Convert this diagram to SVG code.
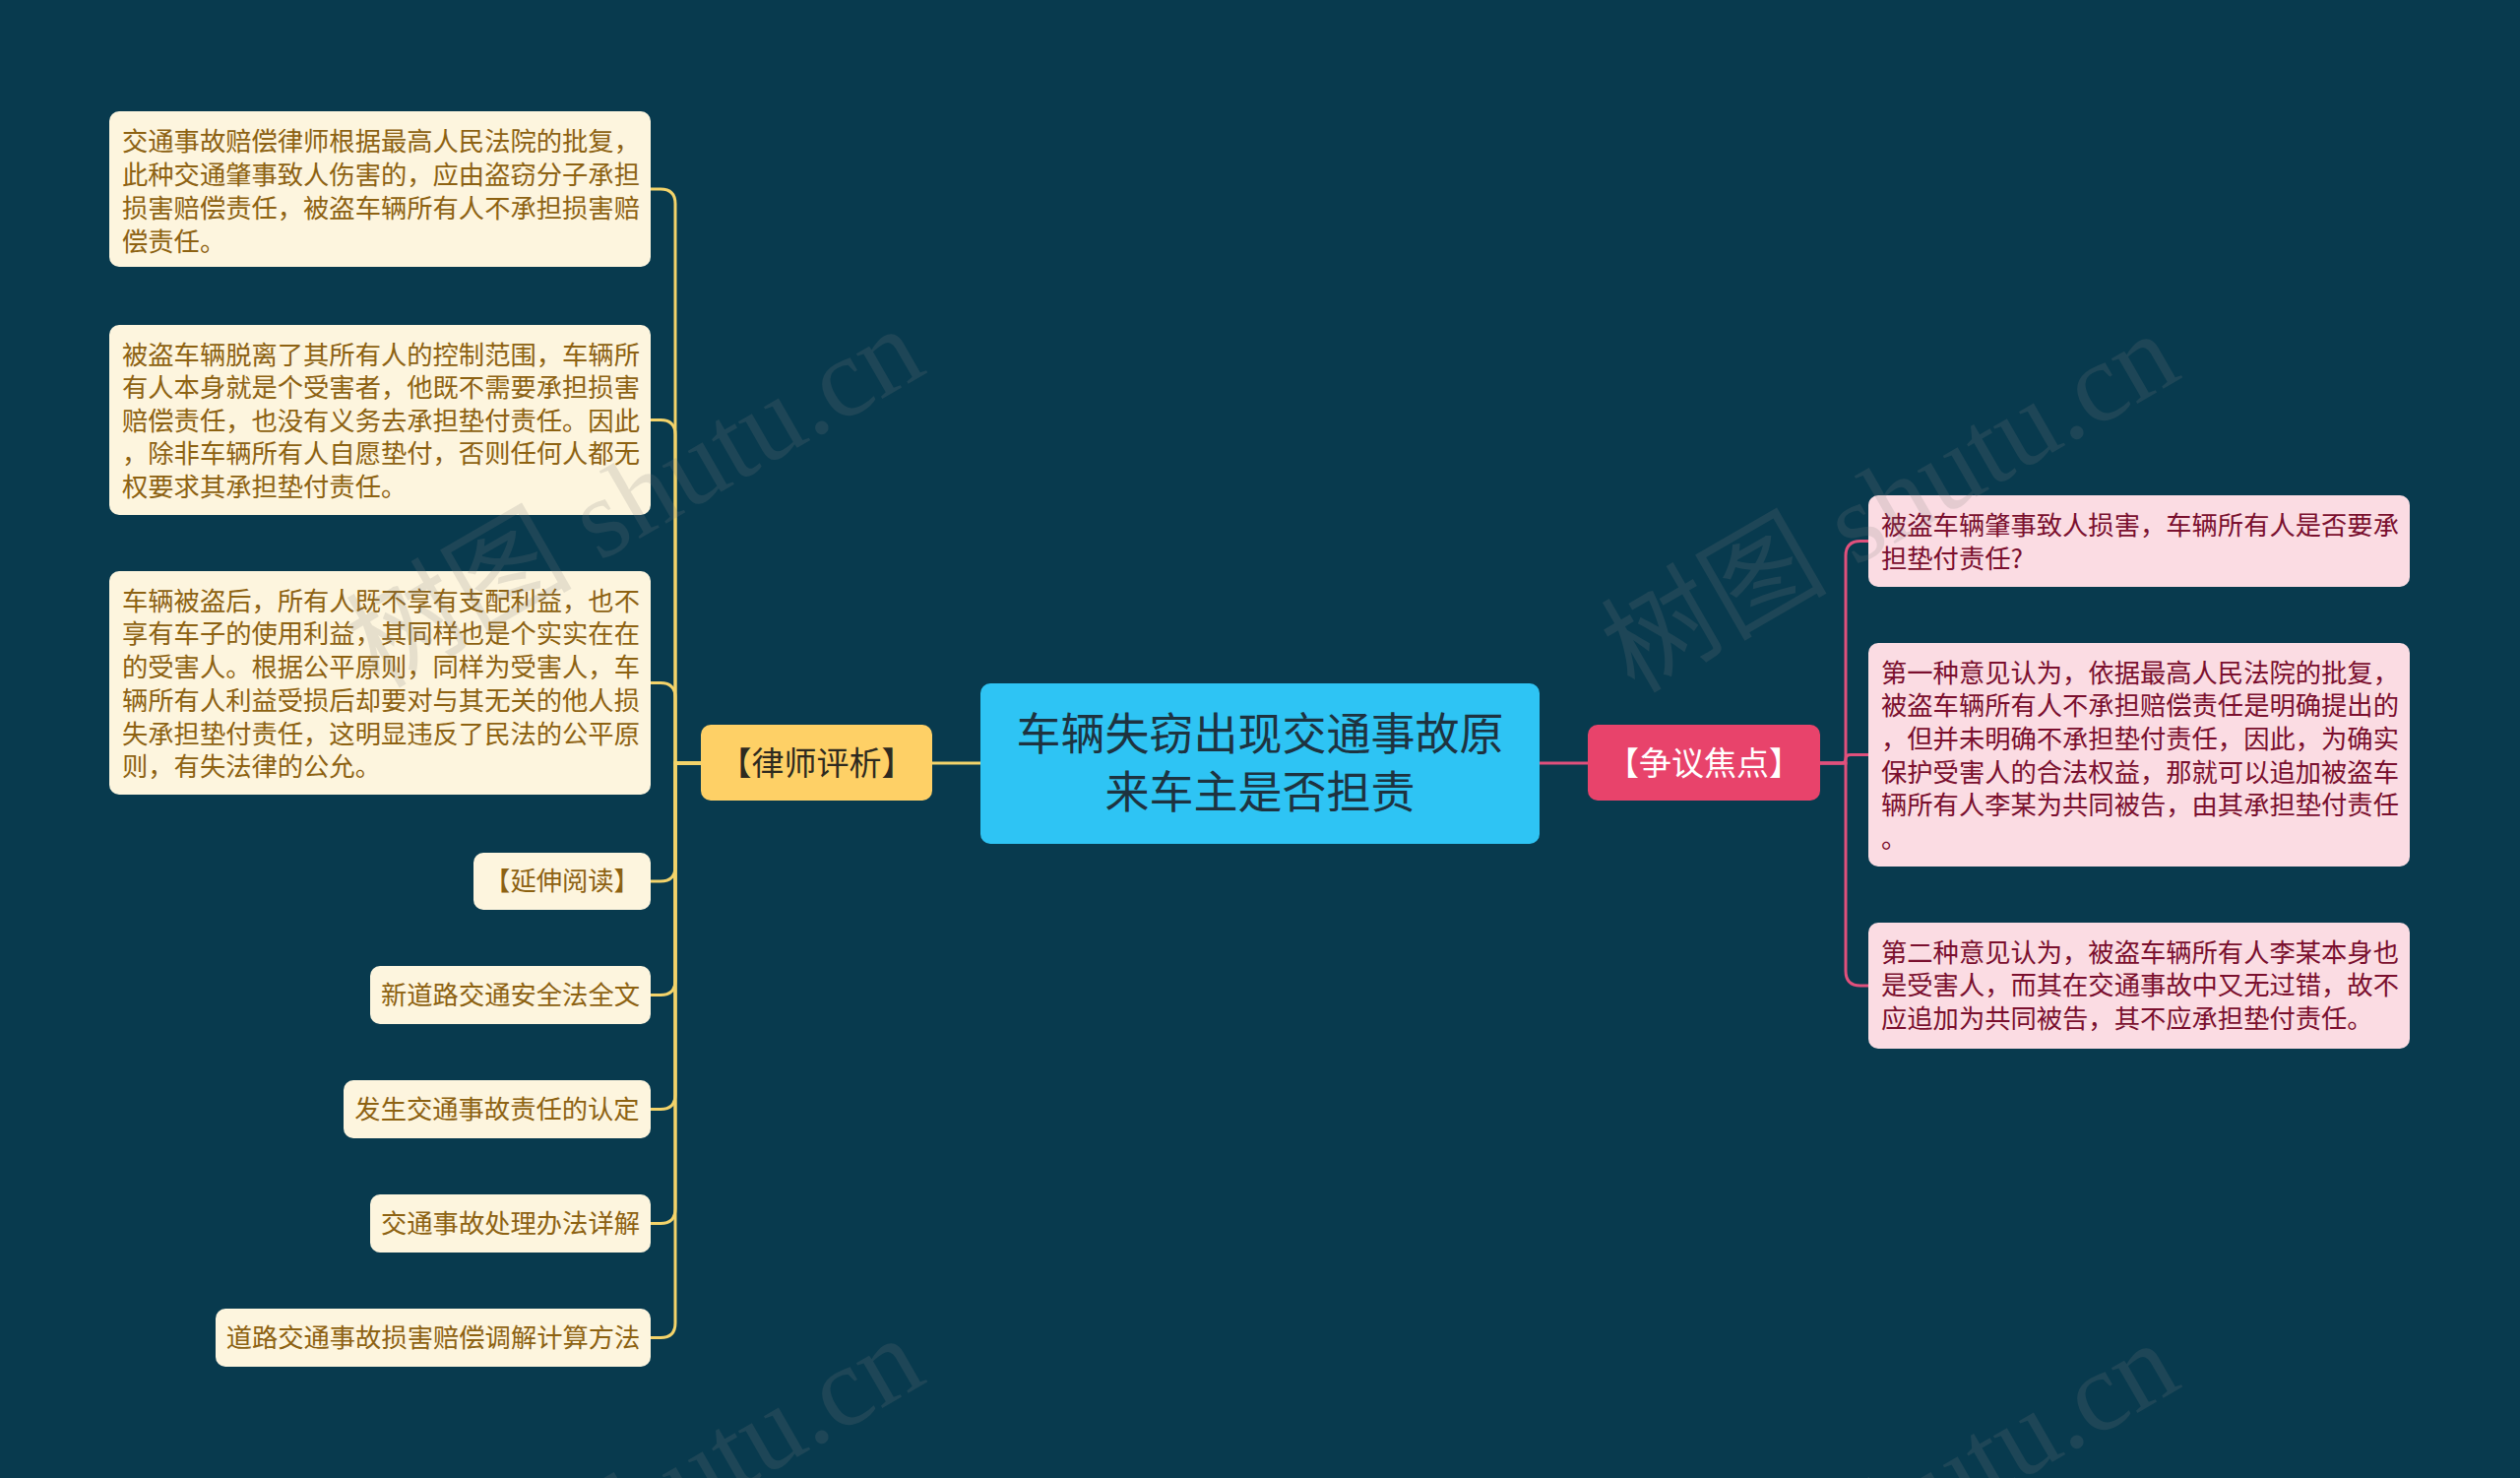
<svg xmlns="http://www.w3.org/2000/svg" width="2560" height="1501" viewBox="0 0 2560 1501">
<style>
.bg{fill:#083a4e}
.lc{fill:#fdf5de}
.lt{font-family:"Noto Sans CJK SC","Noto Sans",sans-serif;font-size:26.3px;fill:#8d6212}
.rc{fill:#fbdce3}
.rt{font-family:"Noto Sans CJK SC","Noto Sans",sans-serif;font-size:26.3px;fill:#7a0f2e}
.ly{fill:none;stroke:#f3d36a;stroke-width:3}
.pk{fill:none;stroke:#e0507c;stroke-width:3}
.wm{font-family:"Liberation Serif","Noto Sans CJK SC",serif;font-size:115px;fill:#808080;opacity:0.18}
</style>
<rect class="bg" x="0" y="0" width="2560" height="1501"/>
<g id="connectors">
<path class="ly" d="M996,775 H947"/>
<path class="pk" d="M1564,775 H1613"/>
<path class="ly" d="M712,775 H686 V207 Q686,192 671,192 H661"/>
<path class="ly" d="M712,775 H686 V441.5 Q686,426.5 671,426.5 H661"/>
<path class="ly" d="M712,775 H686 V708.5 Q686,693.5 671,693.5 H661"/>
<path class="ly" d="M712,775 H686 V880 Q686,895 671,895 H661"/>
<path class="ly" d="M712,775 H686 V995.5 Q686,1010.5 671,1010.5 H661"/>
<path class="ly" d="M712,775 H686 V1111.5 Q686,1126.5 671,1126.5 H661"/>
<path class="ly" d="M712,775 H686 V1227.5 Q686,1242.5 671,1242.5 H661"/>
<path class="ly" d="M712,775 H686 V1343.5 Q686,1358.5 671,1358.5 H661"/>
<path class="pk" d="M1849,775 H1875 V564.5 Q1875,549.5 1890,549.5 H1898"/>
<path class="pk" d="M1849,775 H1870 Q1875,775 1875,770.75 Q1875,766.5 1880,766.5 H1898"/>
<path class="pk" d="M1849,775 H1875 V986 Q1875,1001 1890,1001 H1898"/>
</g>
<g id="center">
<rect x="996" y="694" width="568" height="163" rx="10" fill="#2ec4f4"/>
<text x="1280" y="762" text-anchor="middle" font-family="'Noto Sans CJK SC','Noto Sans',sans-serif" font-size="45" fill="#1e3340">车辆失窃出现交通事故原</text>
<text x="1280" y="821" text-anchor="middle" font-family="'Noto Sans CJK SC','Noto Sans',sans-serif" font-size="45" fill="#1e3340">来车主是否担责</text>
</g>
<g id="lawyer">
<rect x="712" y="736" width="235" height="77" rx="10" fill="#fed066"/>
<text x="829.5" y="787" text-anchor="middle" font-family="'Noto Sans CJK SC','Noto Sans',sans-serif" font-size="33" fill="#2e2a20">【律师评析】</text>
</g>
<g id="dispute">
<rect x="1613" y="736" width="236" height="77" rx="10" fill="#e8436b"/>
<text x="1731" y="787" text-anchor="middle" font-family="'Noto Sans CJK SC','Noto Sans',sans-serif" font-size="33" fill="#ffffff">【争议焦点】</text>
</g>
<g id="l1">
<rect class="lc" x="111" y="113" width="550" height="158" rx="10"/>
<text class="lt" x="124" y="153">交通事故赔偿律师根据最高人民法院的批复，</text>
<text class="lt" x="124" y="187">此种交通肇事致人伤害的，应由盗窃分子承担</text>
<text class="lt" x="124" y="221">损害赔偿责任，被盗车辆所有人不承担损害赔</text>
<text class="lt" x="124" y="255">偿责任。</text>
</g>
<g id="l2">
<rect class="lc" x="111" y="330" width="550" height="193" rx="10"/>
<text class="lt" x="124" y="370">被盗车辆脱离了其所有人的控制范围，车辆所</text>
<text class="lt" x="124" y="403">有人本身就是个受害者，他既不需要承担损害</text>
<text class="lt" x="124" y="437">赔偿责任，也没有义务去承担垫付责任。因此</text>
<text class="lt" x="124" y="470">，除非车辆所有人自愿垫付，否则任何人都无</text>
<text class="lt" x="124" y="504">权要求其承担垫付责任。</text>
</g>
<g id="l3">
<rect class="lc" x="111" y="580" width="550" height="227" rx="10"/>
<text class="lt" x="124" y="620">车辆被盗后，所有人既不享有支配利益，也不</text>
<text class="lt" x="124" y="653">享有车子的使用利益，其同样也是个实实在在</text>
<text class="lt" x="124" y="687">的受害人。根据公平原则，同样为受害人，车</text>
<text class="lt" x="124" y="721">辆所有人利益受损后却要对与其无关的他人损</text>
<text class="lt" x="124" y="755">失承担垫付责任，这明显违反了民法的公平原</text>
<text class="lt" x="124" y="788">则，有失法律的公允。</text>
</g>
<g id="l4">
<rect class="lc" x="481" y="866" width="180" height="58" rx="10"/>
<text class="lt" x="571" y="904" text-anchor="middle">【延伸阅读】</text>
</g>
<g id="l5">
<rect class="lc" x="376" y="981" width="285" height="59" rx="10"/>
<text class="lt" x="518.5" y="1019.5" text-anchor="middle">新道路交通安全法全文</text>
</g>
<g id="l6">
<rect class="lc" x="349" y="1097" width="312" height="59" rx="10"/>
<text class="lt" x="505" y="1135.5" text-anchor="middle">发生交通事故责任的认定</text>
</g>
<g id="l7">
<rect class="lc" x="376" y="1213" width="285" height="59" rx="10"/>
<text class="lt" x="518.5" y="1251.5" text-anchor="middle">交通事故处理办法详解</text>
</g>
<g id="l8">
<rect class="lc" x="219" y="1329" width="442" height="59" rx="10"/>
<text class="lt" x="440" y="1367.5" text-anchor="middle">道路交通事故损害赔偿调解计算方法</text>
</g>
<g id="r1">
<rect class="rc" x="1898" y="503" width="550" height="93" rx="10"/>
<text class="rt" x="1911" y="543">被盗车辆肇事致人损害，车辆所有人是否要承</text>
<text class="rt" x="1911" y="577">担垫付责任?</text>
</g>
<g id="r2">
<rect class="rc" x="1898" y="653" width="550" height="227" rx="10"/>
<text class="rt" x="1911" y="693">第一种意见认为，依据最高人民法院的批复，</text>
<text class="rt" x="1911" y="726">被盗车辆所有人不承担赔偿责任是明确提出的</text>
<text class="rt" x="1911" y="760">，但并未明确不承担垫付责任，因此，为确实</text>
<text class="rt" x="1911" y="794">保护受害人的合法权益，那就可以追加被盗车</text>
<text class="rt" x="1911" y="827">辆所有人李某为共同被告，由其承担垫付责任</text>
<text class="rt" x="1911" y="861">。</text>
</g>
<g id="r3">
<rect class="rc" x="1898" y="937" width="550" height="128" rx="10"/>
<text class="rt" x="1911" y="977">第二种意见认为，被盗车辆所有人李某本身也</text>
<text class="rt" x="1911" y="1010">是受害人，而其在交通事故中又无过错，故不</text>
<text class="rt" x="1911" y="1044">应追加为共同被告，其不应承担垫付责任。</text>
</g>
<g id="watermarks">
<text class="wm" transform="translate(385,700) rotate(-30)">树图 shutu.cn</text>
<text class="wm" transform="translate(1660,705) rotate(-30)">树图 shutu.cn</text>
<text class="wm" transform="translate(385,1725) rotate(-30)">树图 shutu.cn</text>
<text class="wm" transform="translate(1660,1730) rotate(-30)">树图 shutu.cn</text>
</g>
</svg>
